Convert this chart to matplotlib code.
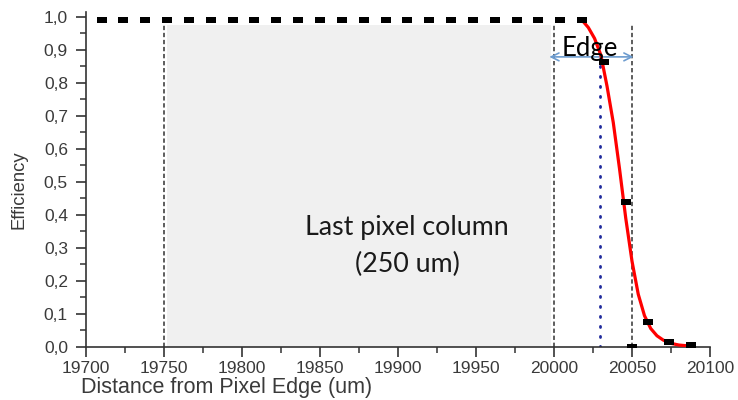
import numpy as np
import matplotlib
matplotlib.use("Agg")
import matplotlib.pyplot as plt
from matplotlib.ticker import MultipleLocator, FuncFormatter

# ---- data ----
meas_x = [19710, 19724, 19738, 19752, 19766, 19780, 19794, 19808, 19822, 19836,
          19850, 19864, 19878, 19892, 19906, 19920, 19934, 19948, 19962, 19976,
          19990, 20004, 20018, 20032, 20046, 20060, 20074, 20088, 20050]
meas_y = [0.99, 0.99, 0.99, 0.99, 0.992, 0.992, 0.99, 0.99, 0.992, 0.99,
          0.99, 0.992, 0.99, 0.992, 0.99, 0.992, 0.99, 0.992, 0.99, 0.99,
          0.99, 0.99, 0.99, 0.864, 0.44, 0.076, 0.015, 0.006, 0.0]

fit_x = [20018, 20022, 20026, 20030, 20034, 20038, 20042, 20046, 20050, 20054,
         20058, 20062, 20066, 20070, 20075, 20080, 20087]
fit_y = [0.99, 0.968, 0.935, 0.885, 0.79, 0.68, 0.54, 0.39, 0.26, 0.16,
         0.095, 0.056, 0.034, 0.021, 0.011, 0.006, 0.003]

region_x = [19752, 19998]
region_top = 0.976
dashed_x = [19750, 20000, 20050]
dotted_x = 20029.5
dotted_top = 0.86
edge_arrow = (19997, 20051, 0.879)

x_ticks = [19700, 19750, 19800, 19850, 19900, 19950, 20000, 20050, 20100]
y_ticks = [0.0, 0.1, 0.2, 0.3, 0.4, 0.5, 0.6, 0.7, 0.8, 0.9, 1.0]

# ---- figure ----
fig = plt.figure(figsize=(7.38, 4.0), dpi=100)
ax = fig.add_axes([86/738, 1-347/400, 624/738, 335/400])

axis_col = "#333333"
lab_col = "#3a3a3a"
ax.fill_between(region_x, 0, region_top, color="#f0f0f0", lw=0, zorder=0)

for xv in dashed_x:
    ax.plot([xv, xv], [0, region_top], color="#505050", lw=1.3,
            dashes=(2.4, 1.5), zorder=2)
ax.plot([dotted_x, dotted_x], [0, dotted_top], color="#1f2a9c", lw=2.0,
        dashes=(0.4, 3.2), dash_capstyle="round", zorder=2)

ax.plot(fit_x, fit_y, color="#ff0000", lw=2.3, zorder=4, solid_capstyle="round")

rect = [(-1, -0.65), (1, -0.65), (1, 0.65), (-1, 0.65)]
ax.scatter(meas_x, meas_y, marker=rect, s=56, color="black", zorder=5, lw=0)

ax.annotate("", xy=(edge_arrow[0], edge_arrow[2]), xytext=(edge_arrow[1], edge_arrow[2]),
            arrowprops=dict(arrowstyle="<->", color="#6d9ccf", lw=1.2,
                            mutation_scale=14, shrinkA=0, shrinkB=0), zorder=3)

ax.text(20023, 0.905, "Edge", fontsize=18.5, family="Lato", ha="center",
        va="center", color="black", zorder=6)
ax.text(19906, 0.305, "Last pixel column\n(250 um)", fontsize=19.3, family="Lato",
        ha="center", va="center", color="#1a1a1a", linespacing=1.6, zorder=6)

ax.set_xlim(19700, 20100)
ax.set_ylim(0, 1.015)
ax.set_xticks(x_ticks)
ax.set_yticks(y_ticks)
ax.xaxis.set_minor_locator(MultipleLocator(25))
ax.yaxis.set_minor_locator(MultipleLocator(0.05))
ax.yaxis.set_major_formatter(FuncFormatter(lambda v, p: f"{v:.1f}".replace(".", ",")))

for s in ["top", "right"]:
    ax.spines[s].set_visible(False)
for s in ["left", "bottom"]:
    ax.spines[s].set_color(axis_col)
    ax.spines[s].set_linewidth(1.2)

ax.tick_params(which="major", direction="out", length=7, width=1.2, color=axis_col,
               labelsize=12.5, labelcolor=lab_col)
ax.tick_params(axis="x", which="major", pad=3)
ax.tick_params(axis="y", which="major", pad=6)
ax.tick_params(which="minor", direction="out", length=4, width=1.1, color=axis_col)
for lab in ax.get_xticklabels() + ax.get_yticklabels():
    lab.set_family("Liberation Sans")

ax.set_xlabel("Distance from Pixel Edge (um)", fontsize=15.5, family="Liberation Sans",
              color=lab_col)
ax.set_ylabel("Efficiency", fontsize=13.3, family="Liberation Sans", color=lab_col)
ax.xaxis.set_label_coords((227-86)/624, -(393-347)/335)
ax.yaxis.set_label_coords((19-86)/624, (347-190)/335)
ax.xaxis.label.set_va("baseline")
ax.yaxis.label.set_va("center")

fig.savefig("out.png", dpi=100)
